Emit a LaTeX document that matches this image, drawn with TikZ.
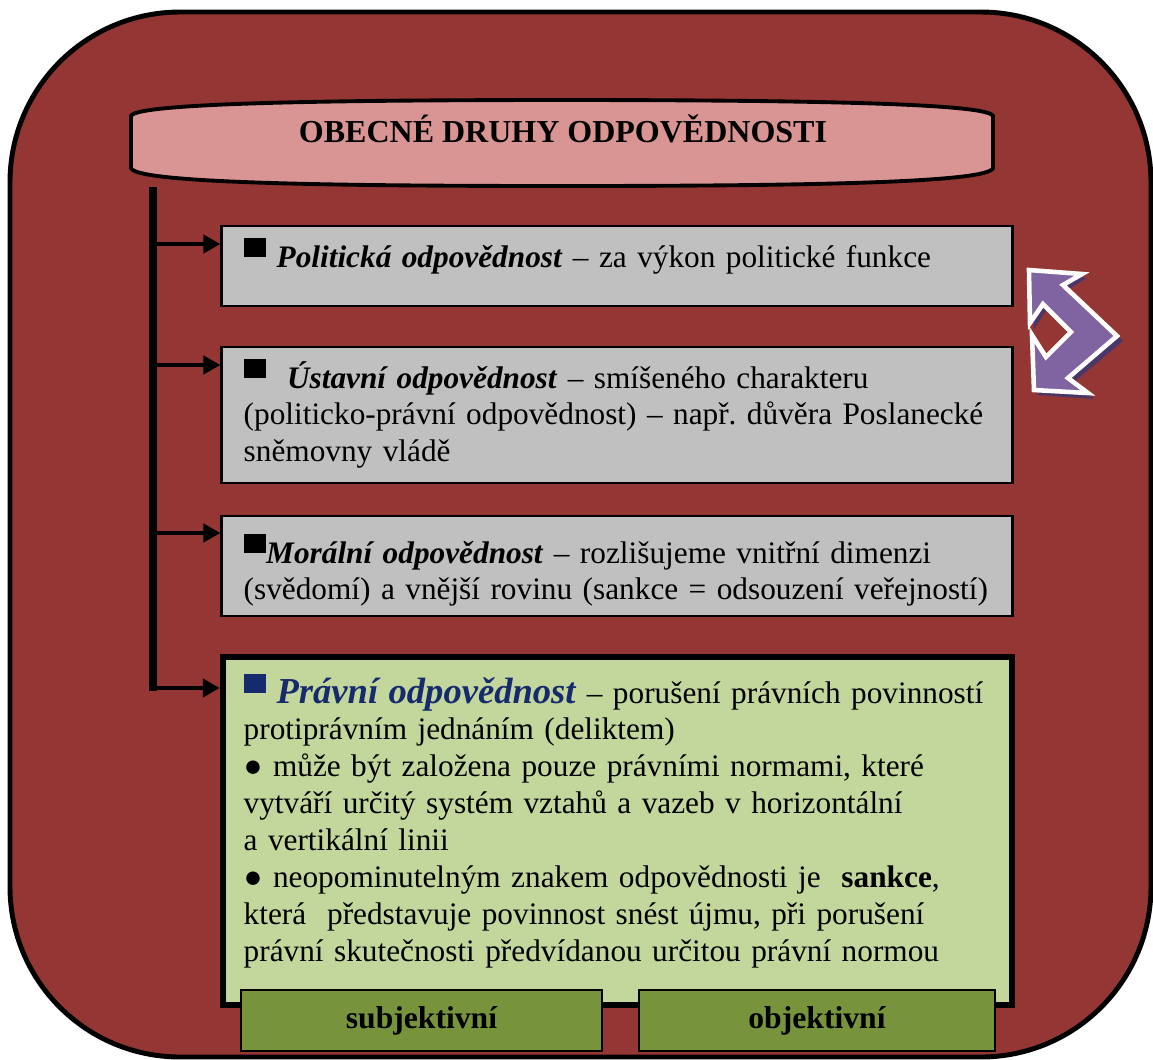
\documentclass[tikz,border=0pt]{standalone}
\usepackage{fontspec}
\setmainfont{Liberation Serif}
\usetikzlibrary{arrows.meta,calc}
\definecolor{framered}{HTML}{943634}
\definecolor{titlepink}{HTML}{D99594}
\definecolor{boxgray}{HTML}{C0C0C0}
\definecolor{boxgreen}{HTML}{C3D69B}
\definecolor{btngreen}{HTML}{77933C}
\definecolor{arrowpurple}{HTML}{8064A2}
\definecolor{arrowshadow}{HTML}{4A3768}
\definecolor{lawblue}{RGB}{22,43,110}
\frenchspacing
\newcommand{\sqmark}[1][black]{\textcolor{#1}{\rule[2.8pt]{6.4pt}{5.5pt}}}
\tikzset{
	graybox/.style={draw=black, line width=0.8pt, fill=boxgray, inner sep=0pt},
	greenbox/.style={draw=black, line width=1.7pt, fill=boxgreen, inner sep=0pt},
	btnbox/.style={draw=black, line width=0.6pt, fill=btngreen, inner sep=0pt, minimum height=0.61cm, font=\fontsize{9}{10.5}\selectfont\bfseries},
	boxtext/.style={anchor=base west, inner sep=0pt, text width=8cm, align=left, font=\fontsize{8.9}{10.5}\selectfont},
	arr/.style={line width=1.4pt, -{Triangle[length=0.17cm,width=0.18cm]}},
}
\begin{document}
\begin{tikzpicture}[x=0.01cm, y=-0.01cm]
			%%%%% START %%%%%
			\useasboundingbox (0,0) rectangle (1153,1059);
			
			\draw[line width=1.4pt, fill=framered, rounded corners=1.7cm] (10,12) rectangle (1151,1057);
			
			% title
			\draw[line width=1.1pt, fill=titlepink] (131,168) -- (131,116) .. controls (135,104) and (300,100) .. (562,100) .. controls (824,100) and (989,104) .. (993,116) -- (993,168) .. controls (989,182) and (824,186) .. (562,186) .. controls (300,186) and (135,182) .. (131,168) -- cycle;
			\node[anchor=base, inner sep=0pt, font=\fontsize{9.1}{10.5}\selectfont\bfseries] (title) at (563,142) {OBECNÉ DRUHY ODPOVĚDNOSTI};
			
			% boxes
			\node[graybox, minimum width=7.9cm, minimum height=0.8cm] (politicka) at (617,266) {};
			\node[graybox, minimum width=7.9cm, minimum height=1.36cm] (ustavni) at (617,415) {};
			\node[graybox, minimum width=7.9cm, minimum height=1.0cm] (moralni) at (617,566) {};
			\node[greenbox, minimum width=7.89cm, minimum height=3.48cm] (pravni) at (617.5,831) {};
			\node[btnbox, minimum width=3.61cm] (subj) at (421.5,1020.5) {subjektivní};
			\node[btnbox, minimum width=3.56cm] (obj) at (817,1020.5) {objektivní};
			
			\node[boxtext] (politickatext) at (243,267) {\sqmark\ \textbf{\textit{Politická odpovědnost}} – za výkon politické funkce};
			\node[boxtext] (ustavnitext) at (243,388) {\sqmark\ \ \textbf{\textit{Ústavní odpovědnost}} – smíšeného charakteru\\(politicko-právní odpovědnost) – např. důvěra Poslanecké\\sněmovny vládě};
			\node[boxtext] (moralnitext) at (243,563) {\sqmark\textbf{\textit{Morální odpovědnost}} – rozlišujeme vnitřní dimenzi\\(svědomí) a vnější rovinu (sankce = odsouzení veřejností)};
			\node[boxtext] (pravnitext) at (243,703) {\sqmark[lawblue]\ {\fontsize{10.4}{10.5}\selectfont\textcolor{lawblue}{\textbf{\textit{Právní odpovědnost}}}} – porušení právních povinností\\protiprávním jednáním (deliktem)\\● může být založena pouze právními normami, které\\vytváří určitý systém vztahů a vazeb v horizontální\\a vertikální linii\\● neopominutelným znakem odpovědnosti je \ \textbf{sankce},\\která \ představuje povinnost snést újmu, při porušení\\právní skutečnosti předvídanou určitou právní normou};
			
			% spine and arrows
			\coordinate (spinetop) at (153,187);
			\coordinate (s1) at (153,244);
			\coordinate (s2) at (153,365);
			\coordinate (s3) at (153,533);
			\coordinate (s4) at (153,688);
			\draw[line width=2pt] (spinetop) -- ([yshift=-0.03cm]s4);
			\draw[arr] (s1) -- (s1 -| politicka.west);
			\draw[arr] (s2) -- (s2 -| ustavni.west);
			\draw[arr] (s3) -- (s3 -| moralni.west);
			\draw[arr] (s4) -- (s4 -| pravni.west);
			
			% purple arrow
			\fill[arrowshadow] ($(1028,269)+(4,5)$) -- ++(55,4) -- ++(-20,12) -- ++(56,51) -- ++(-50,42) -- ++(21,16) -- ++(-56,-4) -- ++(-2,-56) -- ++(15,23) -- ++(25,-25) -- ++(-29,-28) -- ++(-13,20) -- cycle;
			\draw[line width=1.3pt, white, fill=arrowpurple, line join=miter] (1029,270) -- (1082,274) -- (1063,285) -- (1117,336) -- (1068,378) -- (1088,393) -- (1034,390) -- (1032,335) -- (1046,357) -- (1071,332) -- (1043,304) -- (1030,323) -- cycle;
			
			%%%%% END %%%%%
\end{tikzpicture}
\end{document}
